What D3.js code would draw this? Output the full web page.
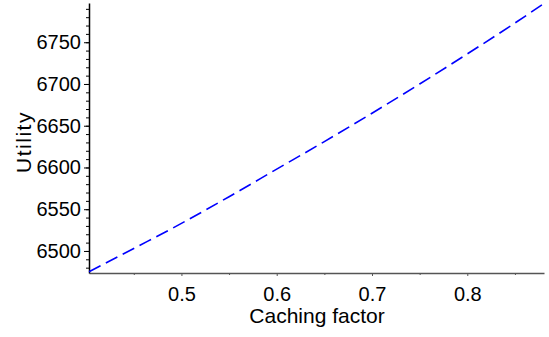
<!DOCTYPE html>
<html lang="en">
<head>
<meta charset="utf-8">
<title>Utility vs caching factor</title>
<script src="https://d3js.org/d3.v7.min.js"></script>
<style>
  body { margin: 0; background: #fff; }
  svg { display: block; }
</style>
</head>
<body>
<script>
// values
var cachingFactor = [0.403, 0.45, 0.50, 0.55, 0.60, 0.65, 0.70, 0.75, 0.80, 0.85, 0.88];
var utility       = [6475, 6503, 6533, 6565, 6598, 6631, 6665, 6700, 6736, 6773, 6796];

var xMajorTicks = [0.5, 0.6, 0.7, 0.8];
var xMinorTicks = [0.45, 0.55, 0.65, 0.75, 0.85];
var yMajorTicks = [6500, 6550, 6600, 6650, 6700, 6750];
var yMinorTicks = d3.range(6480, 6791, 10);

var xLabel = "Caching factor";
var yLabel = "Utility";

var w = 549, h = 337;
var plotLeft = 89, plotRight = 544, plotTop = 3, plotBottom = 273;

var data = cachingFactor.map(function(c, i) { return { c: c, u: utility[i] }; });

var x = d3.scaleLinear().domain([0.403, 0.8805]).range([plotLeft, plotRight]);
var y = d3.scaleLinear().domain([6473.6, 6797]).range([plotBottom, plotTop]);

var svg = d3.select("body").append("svg")
  .attr("width", w)
  .attr("height", h)
  .style("font-family", "'Liberation Sans', Arial, sans-serif");

// x axis: minor ticks then major ticks with labels
svg.append("g")
  .attr("transform", "translate(0," + plotBottom + ")")
  .call(d3.axisBottom(x).tickValues(xMinorTicks).tickSize(2).tickFormat(""))
  .call(function(g) { g.select(".domain").remove(); })
  .selectAll("line").attr("stroke", "#555");

var xAxis = svg.append("g")
  .attr("transform", "translate(0," + plotBottom + ")")
  .call(d3.axisBottom(x).tickValues(xMajorTicks).tickSize(3).tickSizeOuter(0).tickPadding(11).tickFormat(d3.format(".1f")));
xAxis.select(".domain").attr("stroke", "#555").attr("stroke-width", 1.5);
xAxis.selectAll("line").attr("stroke", "#555");
xAxis.selectAll("text").attr("font-size", 20).attr("fill", "#000");

// y axis
svg.append("g")
  .attr("transform", "translate(" + plotLeft + ",0)")
  .call(d3.axisLeft(y).tickValues(yMinorTicks).tickSize(3).tickFormat(""))
  .call(function(g) { g.select(".domain").remove(); })
  .selectAll("line").attr("stroke", "#000");

var yAxis = svg.append("g")
  .attr("transform", "translate(" + plotLeft + ",0)")
  .call(d3.axisLeft(y).tickValues(yMajorTicks).tickSize(5).tickSizeOuter(0).tickPadding(3).tickFormat(d3.format("d")));
yAxis.select(".domain").attr("stroke", "#000").attr("stroke-width", 1.5);
yAxis.selectAll("line").attr("stroke", "#000");
yAxis.selectAll("text").attr("font-size", 20).attr("fill", "#000");

// the curve
svg.append("path")
  .datum(data)
  .attr("fill", "none")
  .attr("stroke", "#0000ff")
  .attr("stroke-width", 1.6)
  .attr("stroke-dasharray", "13,6")
  .attr("d", d3.line()
    .x(function(d) { return x(d.c); })
    .y(function(d) { return y(d.u); })
    .curve(d3.curveMonotoneX));

// axis titles
svg.append("text")
  .attr("x", 317)
  .attr("y", 323)
  .attr("text-anchor", "middle")
  .attr("font-size", 21)
  .text(xLabel);

svg.append("text")
  .attr("transform", "translate(31,142) rotate(-90)")
  .attr("text-anchor", "middle")
  .attr("font-size", 21)
  .attr("letter-spacing", 1.5)
  .text(yLabel);
</script>
</body>
</html>
